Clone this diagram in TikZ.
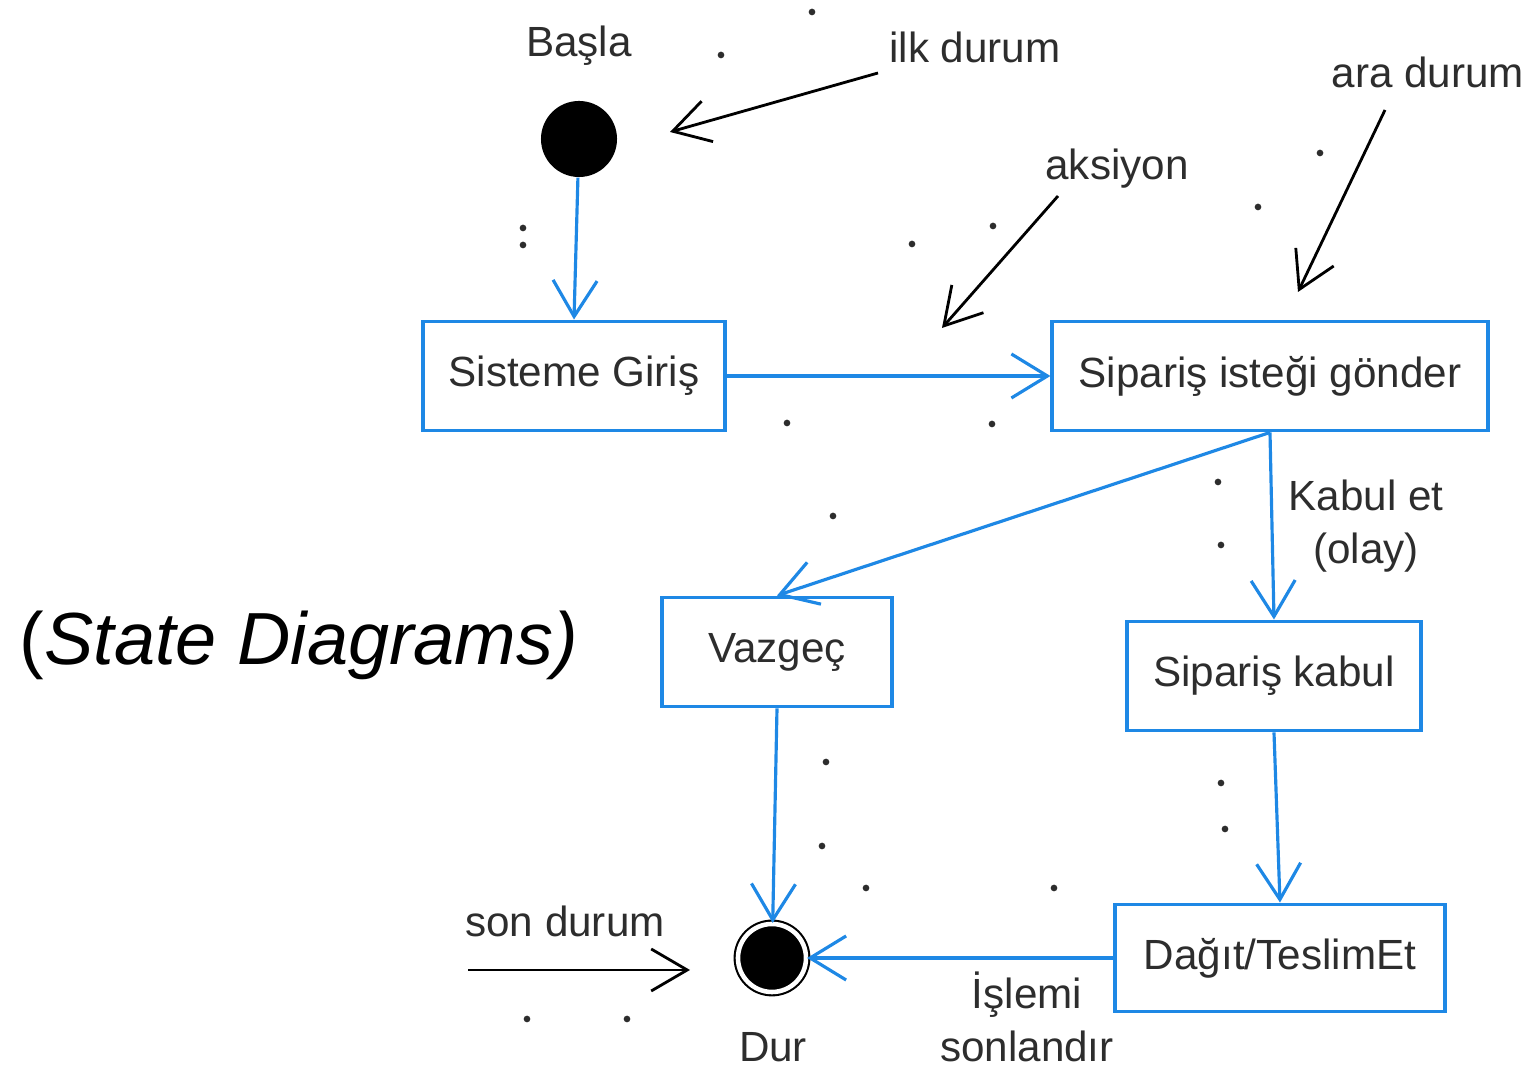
\documentclass[tikz,border=0pt]{standalone}
\usepackage{fontspec}
\setmainfont{Liberation Sans}
\usetikzlibrary{arrows.meta}
\definecolor{umlblue}{RGB}{30,136,229}
\definecolor{ink}{RGB}{45,45,45}
\begin{document}
\begin{tikzpicture}[x=0.01cm, y=-0.01cm, font=\fontsize{12}{15}\selectfont, text=ink]
        \tikzstyle{state}=[draw=umlblue, line width=1.1pt, minimum height=1.09cm, inner sep=0pt, fill=white]
        \tikzstyle{flow}=[draw=umlblue, line width=0.9pt, -{Straight Barb[length=3.6mm, width=4.4mm]}]
        \tikzstyle{note}=[draw=black, line width=0.8pt, -{Straight Barb[length=3.6mm, width=4.2mm]}]
        \tikzstyle{speck}=[fill=ink, inner sep=0pt, minimum size=1.9pt, circle]

        \useasboundingbox (0,0) rectangle (1526,1065);

        % states
        \node (start)[circle, fill=black, minimum size=0.76cm, inner sep=0pt, label={[label distance=0.22cm]90:Başla}] at (579,139) {};
        \node (giris)[state, minimum width=3.01cm] at (574,376) {Sisteme Giriş};
        \node (istek)[state, minimum width=4.35cm] at (1270,376) {Sipariş isteği gönder};
        \node (vazgec)[state, minimum width=2.30cm] at (777,652) {Vazgeç};
        \node (kabul)[state, minimum width=2.93cm] at (1274,676) {Sipariş kabul};
        \node (dagit)[state, minimum width=3.30cm, minimum height=1.07cm] at (1280,958) {Dağıt/TeslimEt};
        \node (dur)[circle, draw=black, fill=black, double=white, double distance=1.3pt, line width=0.6pt, minimum size=0.68cm, inner sep=0pt] at (772,958) {};
        \node (durtxt) at (773,1047) {Dur};

        \node (title) at (299,645) {\fontsize{21}{25}\selectfont\color{black}(\itshape State Diagrams)};

        % transitions
        \draw[flow] (start) -- (giris.north);
        \draw[flow] (giris) -- (istek);
        \draw[flow] (istek.south) -- (vazgec.north);
        \draw[flow] (istek.south) -- (kabul.north);
        \draw[flow] (kabul.south) -- (dagit.north);
        \draw[flow] (vazgec.south) -- (dur);
        \draw[flow] (dagit) -- (dur);

        \node (olay)[align=center] at (1366,526) {Kabul et\\(olay)};
        \node (islemi)[align=center] at (1027,1017) {İşlemi\\sonlandır};

        % annotations
        \node (ilk) at (975,47) {ilk durum};
        \node (aksiyon) at (1117,169) {aksiyon};
        \node (ara) at (1428,72) {ara durum};
        \node (son) at (565,921) {son durum};

        \coordinate (ilkA) at (878,73);
        \coordinate (ilkB) at (670,132);
        \coordinate (aksA) at (1058,196);
        \coordinate (aksB) at (942,328);
        \coordinate (araA) at (1385,110);
        \coordinate (araB) at (1298,292);
        \coordinate (sonA) at (468,970);
        \coordinate (sonB) at (690,970);

        \draw[note] (ilkA) -- (ilkB);
        \draw[note] (aksA) -- (aksB);
        \draw[note] (araA) -- (araB);
        \draw[note] (sonA) -- (sonB);

        % stray specks
        \foreach \px/\py in {812/12, 721/55, 523/228, 523/245, 912/244, 993/226, 1258/207, 1320/153,
                             787/423, 992/424, 1218/482, 1221/545, 833/516, 826/762, 822/846, 866/888,
                             1054/888, 1221/783, 1225/829, 527/1019, 627/1019}
            \node[speck] at (\px,\py) {};
    \end{tikzpicture}
\end{document}
